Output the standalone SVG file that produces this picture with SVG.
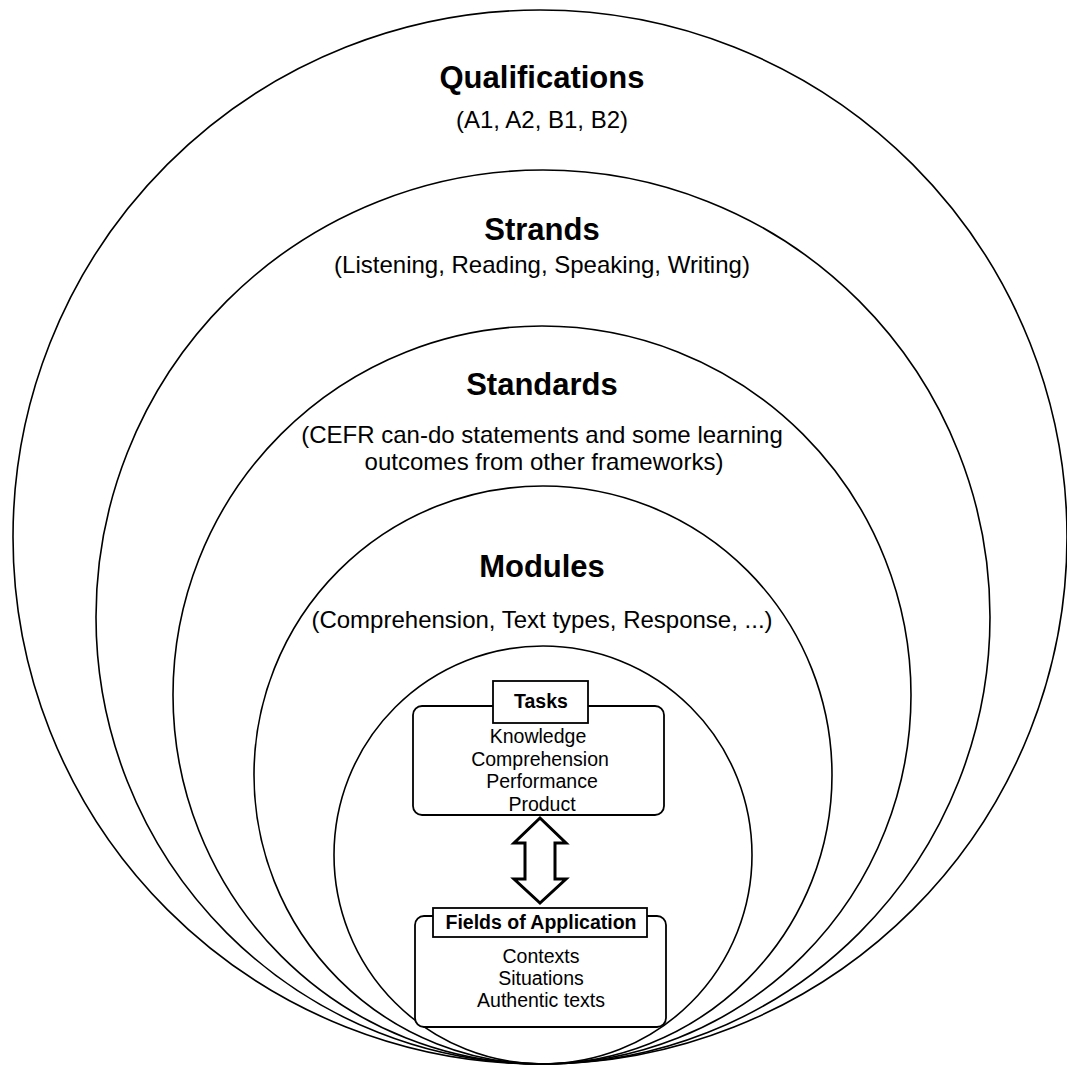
<svg xmlns="http://www.w3.org/2000/svg" width="1067" height="1066" viewBox="0 0 1067 1066">
  <style>
    .ring { fill: none; stroke: #000; stroke-width: 1.6; }
    .box { fill: #fff; stroke: #000; stroke-width: 1.8; }
    .title { font-family: "Liberation Sans", Arial, sans-serif; font-weight: bold; font-size: 31px; text-anchor: middle; fill: #000; }
    .sub { font-family: "Liberation Sans", Arial, sans-serif; font-size: 24px; text-anchor: middle; fill: #000; }
    .btitle { font-family: "Liberation Sans", Arial, sans-serif; font-weight: bold; font-size: 19.5px; text-anchor: middle; fill: #000; }
    .item { font-family: "Liberation Sans", Arial, sans-serif; font-size: 19.5px; text-anchor: middle; fill: #000; }
    .arrow { fill: #fff; stroke: #000; stroke-width: 3; stroke-linejoin: miter; }
  </style>
  <rect width="1067" height="1066" fill="#fff"/>

  <g id="qualifications">
    <circle class="ring" cx="540" cy="537" r="527"/>
    <text class="title" x="542" y="88">Qualifications</text>
    <text class="sub" x="542" y="128">(A1, A2, B1, B2)</text>
  </g>

  <g id="strands">
    <circle class="ring" cx="543" cy="617" r="447"/>
    <text class="title" x="542" y="240">Strands</text>
    <text class="sub" x="542" y="273">(Listening, Reading, Speaking, Writing)</text>
  </g>

  <g id="standards">
    <circle class="ring" cx="542" cy="695" r="369"/>
    <text class="title" x="542" y="395">Standards</text>
    <text class="sub" x="542" y="443">(CEFR can-do statements and some learning</text>
    <text class="sub" x="544" y="470">outcomes from other frameworks)</text>
  </g>

  <g id="modules">
    <circle class="ring" cx="543" cy="775" r="289"/>
    <text class="title" x="542" y="577">Modules</text>
    <text class="sub" x="542" y="628">(Comprehension, Text types, Response, ...)</text>
  </g>

  <g id="core">
    <circle class="ring" cx="543" cy="855" r="209"/>
  </g>

  <g id="tasks">
    <rect class="box" x="413" y="706" width="251" height="109" rx="9"/>
    <rect class="box" x="493" y="681" width="95" height="42"/>
    <text class="btitle" x="541" y="708">Tasks</text>
    <text class="item" x="538" y="743">Knowledge</text>
    <text class="item" x="540" y="766">Comprehension</text>
    <text class="item" x="542" y="788">Performance</text>
    <text class="item" x="542" y="811">Product</text>
  </g>

  <g id="fields">
    <rect class="box" x="415" y="916" width="251" height="111" rx="9"/>
    <rect class="box" x="433" y="908" width="214" height="29"/>
    <text class="btitle" x="541" y="929">Fields of Application</text>
    <text class="item" x="541" y="963">Contexts</text>
    <text class="item" x="541" y="985">Situations</text>
    <text class="item" x="541" y="1007">Authentic texts</text>
  </g>

  <g id="connectors">
    <polygon class="arrow" points="540,818 514,843 525,843 525,879 514,879 540,903 566,879 555,879 555,843 566,843"/>
  </g>
</svg>
